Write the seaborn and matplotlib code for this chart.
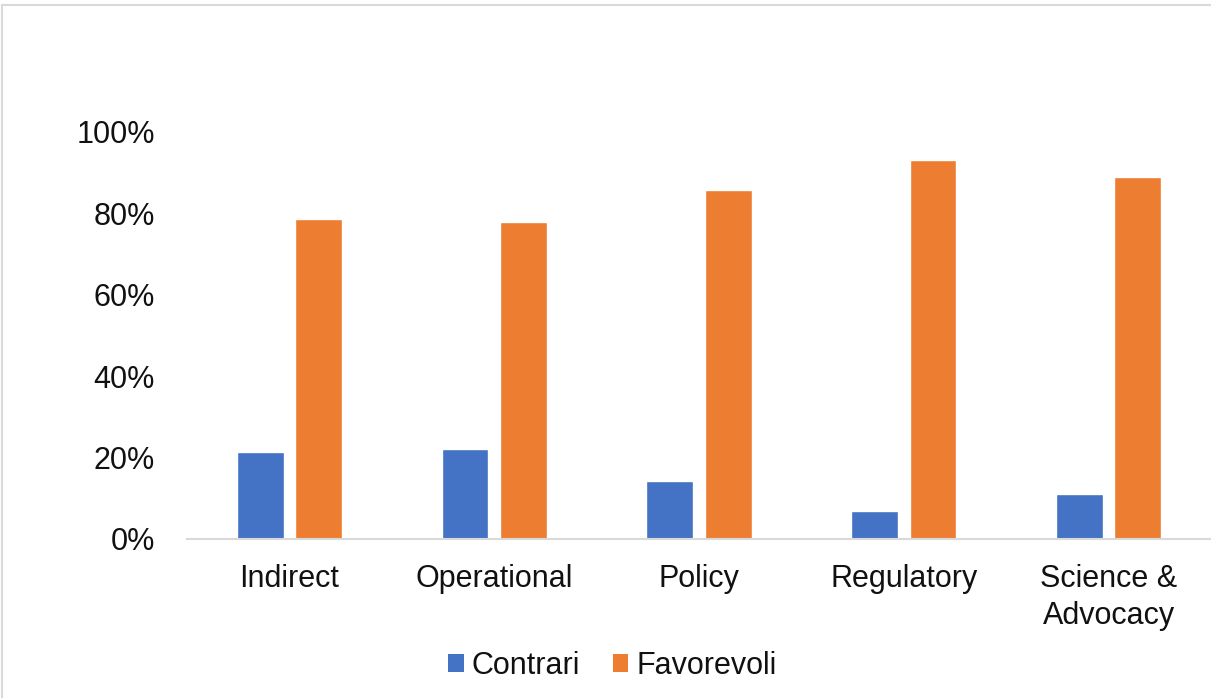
import matplotlib
matplotlib.use("Agg")
import matplotlib.pyplot as plt
from matplotlib.patches import Rectangle, Patch
from matplotlib.ticker import PercentFormatter, FixedLocator
import seaborn as sns
import pandas as pd

categories = ["Indirect", "Operational", "Policy", "Regulatory", "Science &\nAdvocacy"]
contrari = [0.213, 0.221, 0.142, 0.070, 0.110]
favorevoli = [0.787, 0.779, 0.858, 0.930, 0.890]
series_names = ["Contrari", "Favorevoli"]
colors = ["#4472C4", "#ED7D31"]
y_ticks = [0.0, 0.2, 0.4, 0.6, 0.8, 1.0]

df = pd.DataFrame({
    "Categoria": categories * 2,
    "Serie": [series_names[0]] * len(categories) + [series_names[1]] * len(categories),
    "Valore": contrari + favorevoli,
})

sns.set_theme(style="white")
plt.rcParams["font.family"] = ["Liberation Sans", "DejaVu Sans"]

fig = plt.figure(figsize=(12.11, 6.98), dpi=100)
ax = fig.add_axes([0.1544, 0.2278, 0.8456, 0.5831])

sns.barplot(data=df, x="Categoria", y="Valore", hue="Serie", order=categories,
            hue_order=series_names, palette=colors, width=0.57, gap=0.2,
            saturation=1.0, ax=ax, legend=False)

ax.set_ylim(0, 1.0)
ax.yaxis.set_major_locator(FixedLocator(y_ticks))
ax.yaxis.set_major_formatter(PercentFormatter(1.0, decimals=0))
ax.set_xlabel("")
ax.set_ylabel("")
ax.tick_params(axis="y", length=0, pad=23, labelsize=22, labelcolor="#111111")
ax.tick_params(axis="x", length=0, pad=18, labelsize=22, labelcolor="#111111")
for lab in ax.get_xticklabels():
    lab.set_linespacing(1.32)

for side in ["top", "right", "left"]:
    ax.spines[side].set_visible(False)
ax.spines["bottom"].set_color("#D9D9D9")
ax.spines["bottom"].set_linewidth(1.5)

handles = [Patch(facecolor=c, edgecolor="none") for c in colors]
fig.legend(handles, series_names, loc="center",
           bbox_to_anchor=(612.5 / 1211, 1 - 666 / 698), frameon=False, fontsize=22,
           handlelength=0.5, handleheight=0.5, handletextpad=0.26,
           columnspacing=1.08, ncol=2, labelcolor="#111111",
           borderpad=0, borderaxespad=0)

# chart-area frame
fig.patches.append(Rectangle((2 / 1211, -0.1), 1.1, (693 + 70) / 698,
                             transform=fig.transFigure, fill=False,
                             edgecolor="#D9D9D9", linewidth=1.5))

fig.savefig("out.png", dpi=100, facecolor="white")
